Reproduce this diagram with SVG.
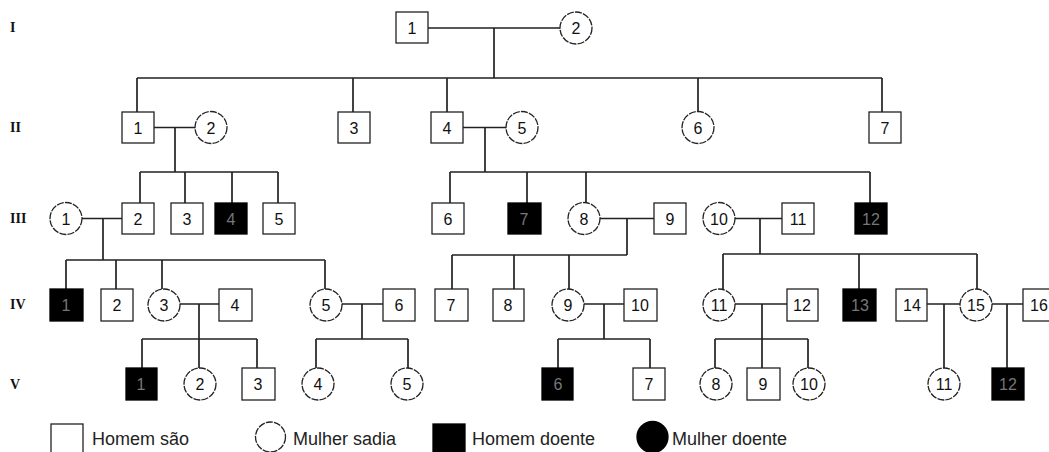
<svg xmlns="http://www.w3.org/2000/svg" width="1049" height="452" viewBox="0 0 1049 452">
<style>
.bg{fill:#fff}
.m{fill:#fff;stroke:#222;stroke-width:1.3}
.f{fill:#fff;stroke:#222;stroke-width:1.3;stroke-dasharray:7 1.2}
.d{fill:#000;stroke:#000;stroke-width:1.3}
.t{font-family:"Liberation Sans",Arial,sans-serif;font-size:16px;fill:#111;text-anchor:middle}
.td{font-family:"Liberation Sans",Arial,sans-serif;font-size:16px;fill:#777;text-anchor:middle}
.g{font-family:"Liberation Serif","Times New Roman",serif;font-size:14px;font-weight:bold;fill:#111}
.lg{font-family:"Liberation Sans",Arial,sans-serif;font-size:18px;fill:#222}
.c{fill:none;stroke:#222;stroke-width:1.7}
</style>
<rect class="bg" width="1049" height="452"/>
<g id="gen-labels">
<text class="g" x="10" y="32">I</text>
<text class="g" x="10" y="132">II</text>
<text class="g" x="10" y="223">III</text>
<text class="g" x="10" y="309">IV</text>
<text class="g" x="10" y="389">V</text>
</g>
<g id="connectors">
<path class="c" d="M428 28H560M494 28V78M137 78H882M137 78V112M353 78V112M447 78V112M698 78V111.5M882 78V112"/>
<path class="c" d="M154 127.5H195M175 127.5V172M140 172H278M140 172V203M185 172V203M232 172V203M278 172V203"/>
<path class="c" d="M463 127.5H506M485 127.5V172M450 172H870M450 172V203M527 172V203M586 172V202.5M870 172V203"/>
<path class="c" d="M82 218.5H122M103 218.5V260M66 260H325M66 260V289M116 260V289M162 260V289M325 260V289"/>
<path class="c" d="M600 218.5H654M627 218.5V255M452 255H627M452 255V289M514 255V289M569 255V289"/>
<path class="c" d="M735 218.5H782M760 218.5V254M723 254H977M723 254V289M859 254V289M977 254V289"/>
<path class="c" d="M180 304H219M199 304V339M142 339H257M142 339V368M199 339V368M257 339V368"/>
<path class="c" d="M342 304H383M362 304V339M316 339H408M316 339V368M408 339V368"/>
<path class="c" d="M584 304H624M604 304V339M558 339H650M558 339V368M650 339V368"/>
<path class="c" d="M735 304H787M762 304V339M715 339H808M715 339V368M762 339V368M808 339V368"/>
<path class="c" d="M927 304H960M944 304V368M992 304H1023M1007 304V368"/>
</g>
<!-- Generation I -->
<g id="I-1"><rect class="m" x="396" y="12" width="32" height="31"/><text class="t" x="412" y="33.5">1</text></g>
<g id="I-2"><circle class="f" cx="576" cy="28" r="16"/><text class="t" x="576" y="33.5">2</text></g>
<!-- Generation II -->
<g id="II-1"><rect class="m" x="122" y="112" width="32" height="31"/><text class="t" x="138" y="133.5">1</text></g>
<g id="II-2"><circle class="f" cx="211" cy="127.5" r="16"/><text class="t" x="211" y="133.5">2</text></g>
<g id="II-3"><rect class="m" x="338" y="112" width="32" height="31"/><text class="t" x="354" y="133.5">3</text></g>
<g id="II-4"><rect class="m" x="431" y="112" width="32" height="31"/><text class="t" x="447" y="133.5">4</text></g>
<g id="II-5"><circle class="f" cx="522" cy="127.5" r="16"/><text class="t" x="522" y="133.5">5</text></g>
<g id="II-6"><circle class="f" cx="698" cy="127.5" r="16"/><text class="t" x="698" y="133.5">6</text></g>
<g id="II-7"><rect class="m" x="869" y="112" width="32" height="31"/><text class="t" x="885" y="133.5">7</text></g>
<!-- Generation III -->
<g id="III-1"><circle class="f" cx="66" cy="218.5" r="16"/><text class="t" x="66" y="224.5">1</text></g>
<g id="III-2"><rect class="m" x="122" y="203" width="32" height="31"/><text class="t" x="138" y="224.5">2</text></g>
<g id="III-3"><rect class="m" x="171" y="203" width="32" height="31"/><text class="t" x="187" y="224.5">3</text></g>
<g id="III-4"><rect class="d" x="215" y="203" width="32" height="31"/><text class="td" x="231" y="224.5">4</text></g>
<g id="III-5"><rect class="m" x="263" y="203" width="32" height="31"/><text class="t" x="279" y="224.5">5</text></g>
<g id="III-6"><rect class="m" x="432" y="203" width="32" height="31"/><text class="t" x="448" y="224.5">6</text></g>
<g id="III-7"><rect class="d" x="508" y="203" width="33" height="31"/><text class="td" x="524" y="224.5">7</text></g>
<g id="III-8"><circle class="f" cx="584" cy="218.5" r="16"/><text class="t" x="584" y="224.5">8</text></g>
<g id="III-9"><rect class="m" x="654" y="203" width="32" height="31"/><text class="t" x="670" y="224.5">9</text></g>
<g id="III-10"><circle class="f" cx="719" cy="218.5" r="16"/><text class="t" x="719" y="224.5">10</text></g>
<g id="III-11"><rect class="m" x="782" y="203" width="32" height="31"/><text class="t" x="798" y="224.5">11</text></g>
<g id="III-12"><rect class="d" x="855" y="203" width="32" height="31"/><text class="td" x="871" y="224.5">12</text></g>
<!-- Generation IV -->
<g id="IV-1"><rect class="d" x="50" y="289" width="33" height="32"/><text class="td" x="66" y="310.5">1</text></g>
<g id="IV-2"><rect class="m" x="101" y="289" width="32" height="32"/><text class="t" x="117" y="310.5">2</text></g>
<g id="IV-3"><circle class="f" cx="164" cy="305" r="16"/><text class="t" x="164" y="310.5">3</text></g>
<g id="IV-4"><rect class="m" x="219" y="289" width="33" height="32"/><text class="t" x="235" y="310.5">4</text></g>
<g id="IV-5"><circle class="f" cx="326" cy="305" r="16"/><text class="t" x="326" y="310.5">5</text></g>
<g id="IV-6"><rect class="m" x="383" y="289" width="32" height="32"/><text class="t" x="399" y="310.5">6</text></g>
<g id="IV-7"><rect class="m" x="435" y="289" width="33" height="32"/><text class="t" x="451" y="310.5">7</text></g>
<g id="IV-8"><rect class="m" x="493" y="289" width="31" height="32"/><text class="t" x="508" y="310.5">8</text></g>
<g id="IV-9"><circle class="f" cx="568" cy="305" r="16"/><text class="t" x="568" y="310.5">9</text></g>
<g id="IV-10"><rect class="m" x="624" y="289" width="33" height="32"/><text class="t" x="640" y="310.5">10</text></g>
<g id="IV-11"><circle class="f" cx="719" cy="305" r="16"/><text class="t" x="719" y="310.5">11</text></g>
<g id="IV-12"><rect class="m" x="787" y="289" width="31" height="32"/><text class="t" x="802" y="310.5">12</text></g>
<g id="IV-13"><rect class="d" x="843" y="289" width="33" height="32"/><text class="td" x="860" y="310.5">13</text></g>
<g id="IV-14"><rect class="m" x="896" y="289" width="31" height="32"/><text class="t" x="912" y="310.5">14</text></g>
<g id="IV-15"><circle class="f" cx="976" cy="305" r="16"/><text class="t" x="976" y="310.5">15</text></g>
<g id="IV-16"><rect class="m" x="1023" y="289" width="32" height="32"/><text class="t" x="1039" y="310.5">16</text></g>
<!-- Generation V -->
<g id="V-1"><rect class="d" x="126" y="368" width="31" height="32"/><text class="td" x="141" y="389.5">1</text></g>
<g id="V-2"><circle class="f" cx="200" cy="384" r="16"/><text class="t" x="200" y="389.5">2</text></g>
<g id="V-3"><rect class="m" x="242" y="368" width="33" height="32"/><text class="t" x="258" y="389.5">3</text></g>
<g id="V-4"><circle class="f" cx="318" cy="384" r="16"/><text class="t" x="318" y="389.5">4</text></g>
<g id="V-5"><circle class="f" cx="407" cy="384" r="16"/><text class="t" x="407" y="389.5">5</text></g>
<g id="V-6"><rect class="d" x="542" y="368" width="31" height="32"/><text class="td" x="558" y="389.5">6</text></g>
<g id="V-7"><rect class="m" x="633" y="368" width="32" height="32"/><text class="t" x="649" y="389.5">7</text></g>
<g id="V-8"><circle class="f" cx="716" cy="384" r="16"/><text class="t" x="716" y="389.5">8</text></g>
<g id="V-9"><rect class="m" x="747" y="368" width="33" height="32"/><text class="t" x="763" y="389.5">9</text></g>
<g id="V-10"><circle class="f" cx="809" cy="384" r="16"/><text class="t" x="809" y="389.5">10</text></g>
<g id="V-11"><circle class="f" cx="944" cy="384" r="16"/><text class="t" x="944" y="389.5">11</text></g>
<g id="V-12"><rect class="d" x="992" y="368" width="32" height="32"/><text class="td" x="1008" y="389.5">12</text></g>
<!-- Legend -->
<g id="legend">
<rect class="m" x="51" y="424" width="32" height="32"/>
<text class="lg" x="92" y="445">Homem são</text>
<circle class="f" cx="270.5" cy="437" r="15"/>
<text class="lg" x="293" y="445">Mulher sadia</text>
<rect class="d" x="433" y="424" width="32" height="32"/>
<text class="lg" x="472" y="445">Homem doente</text>
<circle class="d" cx="652.5" cy="437" r="15.5"/>
<text class="lg" x="672" y="445">Mulher doente</text>
</g>
</svg>
